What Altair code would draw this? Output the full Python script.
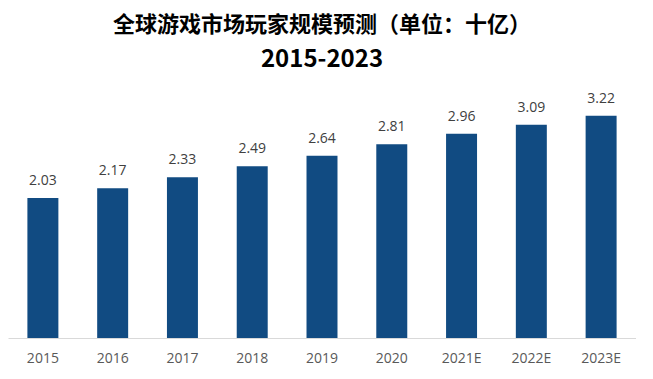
import altair as alt
import pandas as pd

years = ["2015", "2016", "2017", "2018", "2019", "2020", "2021E", "2022E", "2023E"]
players = [2.03, 2.17, 2.33, 2.49, 2.64, 2.81, 2.96, 3.09, 3.22]
labels = ["2.03", "2.17", "2.33", "2.49", "2.64", "2.81", "2.96", "3.09", "3.22"]

df = pd.DataFrame({"year": years, "value": players, "label": labels})

x = alt.X("year:N", sort=years, title=None,
          scale=alt.Scale(paddingInner=0.556, paddingOuter=0.278),
          axis=alt.Axis(labelAngle=0, ticks=False, domainColor="#D9D9D9",
                        domainWidth=1, labelColor="#595959", labelFontSize=14,
                        labelFont="Open Sans", labelPadding=13))
y = alt.Y("value:Q", title=None, axis=None,
          scale=alt.Scale(domain=[0, 3.667], nice=False, zero=True))

bars = alt.Chart(df).mark_bar(color="#114B82").encode(x=x, y=y)
text = alt.Chart(df).mark_text(dy=-13, baseline="alphabetic", fontSize=14,
                               font="Open Sans", color="#404040").encode(
    x=alt.X("year:N", sort=years), y="value:Q", text="label:N")

chart = alt.layer(bars, text).properties(
    width=628, height=253,
    padding={"left": 0, "right": 0, "top": 6, "bottom": 0},
    title=alt.TitleParams(
        text="全球游戏市场玩家规模预测（单位：十亿）",
        subtitle="2015-2023",
        font="Noto Sans CJK SC", fontSize=22, fontWeight="bold", color="#000000",
        subtitleFont="Noto Sans CJK SC", subtitleFontSize=24,
        subtitleFontWeight="bold", subtitleColor="#000000",
        subtitlePadding=11, anchor="middle", offset=12),
).configure_view(stroke=None)

chart.save("out.html", embed_options={"renderer": "svg", "actions": False})
